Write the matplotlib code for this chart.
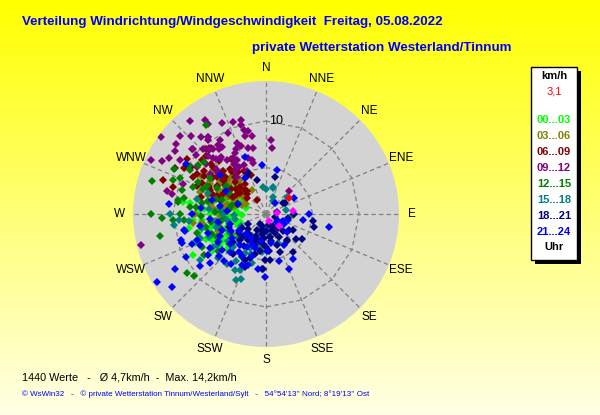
import numpy as np
import matplotlib
matplotlib.use("Agg")
import matplotlib.pyplot as plt
from matplotlib.patches import Rectangle, Circle

plt.rcParams["font.family"] = ["Liberation Sans", "DejaVu Sans"]

# wind direction (deg, from north, clockwise) and speed (km/h), grouped by hour
dir_00_03 = [241, 239, 265, 255, 244, 278, 262, 278, 251, 265, 285, 298, 300, 255, 311, 270,
             248, 258, 275, 290, 282, 268, 245, 236, 292, 305, 260, 230, 272, 287, 252, 300,
             250, 262, 275, 285, 240, 232, 268, 280, 258, 247, 293, 272, 255, 238, 265,
             228, 242, 256, 270, 283, 262, 248, 235]
spd_00_03 = [9.0, 5.4, 6.9, 7.5, 6.4, 9.0, 7.1, 8.2, 4.6, 3.9, 5.7, 7.0, 3.0, 6.5, 4.4, 5.0,
             3.2, 5.8, 4.2, 4.8, 6.3, 2.6, 7.8, 6.0, 3.6, 5.2, 8.4, 4.8, 7.4, 2.2, 2.9, 6.0,
             5.0, 5.6, 6.7, 4.0, 5.9, 5.2, 4.4, 3.4, 3.5, 7.0, 5.5, 3.0, 4.1, 4.2, 7.9,
             5.6, 4.8, 6.2, 6.0, 7.4, 4.8, 8.2, 7.2]

dir_03_06 = [295, 300, 290, 305, 285, 310, 298, 280, 292, 315, 275, 303, 288, 296, 320,
             282, 308, 270, 262, 300, 312, 287, 294, 305, 278, 263, 250, 240, 325, 330,
             300, 310, 293, 285, 318, 305, 297, 290, 302, 280, 315, 308,
             315, 322, 300, 288, 310, 276, 268, 296]
spd_03_06 = [4.0, 5.2, 6.1, 4.6, 3.5, 5.5, 6.8, 4.8, 3.0, 3.8, 5.6, 7.2, 7.5, 2.4, 4.9,
             6.4, 3.3, 7.6, 6.9, 8.1, 6.2, 5.1, 4.5, 2.8, 3.9, 7.9, 5.5, 4.2, 5.8, 3.0,
             3.6, 4.2, 5.4, 4.3, 4.4, 6.0, 5.8, 2.7, 4.9, 6.0, 6.6, 5.0,
             5.5, 4.6, 7.0, 6.6, 7.4, 4.4, 5.0, 3.8]

dir_06_09 = [305, 297, 299, 288, 286, 317, 320, 305, 312, 339, 321, 310, 297, 307, 309, 316,
             317, 293, 298, 292, 290, 326, 287, 305, 315, 300, 310, 295, 320, 325, 290, 312,
             302, 318, 308, 298, 285, 312, 305, 322, 300, 316, 308, 295, 326, 318, 302, 311, 333,
             300, 314, 328, 306, 296, 320, 330, 310, 290, 304]
spd_06_09 = [10.4, 11.0, 10.1, 11.7, 10.4, 9.5, 9.2, 8.1, 7.6, 4.5, 5.8, 9.0, 8.8, 6.6, 5.8, 4.0,
             3.0, 6.5, 4.4, 8.0, 3.3, 1.8, 5.2, 7.0, 6.5, 5.0, 4.2, 6.8, 5.2, 4.0, 5.6, 8.0,
             9.5, 7.6, 5.9, 4.0, 7.2, 6.0, 5.4, 6.2, 6.1, 4.8, 3.6, 5.1, 5.4, 3.4, 7.8, 7.0, 5.2,
             8.6, 9.0, 7.0, 4.6, 7.6, 3.2, 6.6, 2.6, 6.2, 3.8]

dir_09_12 = [321, 327, 327, 334, 340, 345, 344, 345, 348, 345, 306, 323, 322, 328, 312, 316,
             319, 321, 324, 335, 345, 349, 4, 5, 295, 297, 317, 320, 324, 332, 302, 283,
             282, 256, 46, 311, 325, 336, 304, 310, 305, 327, 306, 346, 330, 338, 335, 325,
             320, 316, 312, 310, 300, 328, 318, 342, 350, 322, 310, 290,
             333, 327, 340, 318, 312, 330, 336, 322, 315, 345, 308, 323]
spd_09_12 = [12.9, 12.1, 11.5, 10.9, 10.5, 10.5, 9.9, 9.3, 9.1, 8.7, 14.0, 10.3, 10.1, 9.4, 10.5, 9.7,
             9.4, 9.0, 8.6, 7.7, 7.3, 7.2, 8.0, 7.1, 13.7, 12.6, 8.3, 7.7, 7.2, 6.6, 10.9, 10.9,
             10.3, 13.9, 3.5, 10.6, 5.8, 5.1, 9.0, 8.4, 11.9, 6.4, 7.4, 5.6, 7.0, 8.2, 9.6, 9.0,
             10.8, 11.6, 12.5, 9.8, 12.0, 6.2, 8.0, 6.3, 8.5, 5.0, 6.8, 9.5,
             7.4, 8.6, 7.8, 9.2, 7.3, 5.8, 5.8, 7.8, 8.8, 6.0, 12.3, 10.4]

dir_12_15 = [286, 268, 266, 233, 229, 237, 92, 326, 300, 306, 293, 278, 255, 243, 232, 242,
             258, 209, 290, 279, 286, 295, 303, 292, 280, 272, 262, 288, 298, 275, 250, 284,
             265, 305, 310, 296, 270, 283, 276, 268, 290, 260, 300, 287, 274, 255, 266, 295, 281,
             258, 270, 245, 290, 278, 302]
spd_12_15 = [12.8, 11.2, 10.0, 10.6, 10.2, 8.0, 2.9, 11.5, 9.4, 9.0, 10.0, 9.6, 7.7, 7.7, 6.5, 4.4,
             11.6, 5.3, 10.6, 9.6, 9.4, 8.1, 7.2, 7.3, 7.0, 5.5, 6.0, 5.0, 6.0, 8.2, 6.2, 3.8,
             4.5, 5.3, 8.7, 11.0, 12.4, 6.4, 7.6, 7.0, 8.4, 5.0, 4.6, 5.6, 4.8, 5.2, 8.8, 7.0, 9.0,
             6.6, 9.2, 5.8, 3.2, 4.0, 9.8]

dir_15_18 = [270, 266, 263, 227, 209, 201, 238, 261, 190, 205, 204, 185, 15, 354, 157, 22,
             0, 27, 79, 16, 51, 174, 186, 250, 240, 230, 258, 275, 282, 220, 215, 245,
             265, 290, 235, 200, 212, 196, 245, 255, 238, 225, 260, 270, 212, 228, 180, 195,
             205, 250, 240, 218, 235, 248, 262, 222, 208, 192, 268, 278]
spd_15_18 = [10.3, 9.4, 10.0, 7.0, 6.9, 7.5, 6.7, 4.2, 2.6, 6.6, 7.8, 3.5, 3.0, 2.9, 3.4, 2.0,
             2.7, 1.6, 2.2, 2.9, 2.9, 2.1, 4.1, 5.0, 5.8, 4.0, 7.0, 6.2, 7.6, 5.5, 3.2, 3.0,
             8.3, 6.6, 8.6, 4.6, 6.0, 5.5, 4.4, 5.6, 6.2, 5.0, 3.4, 4.6, 2.8, 3.6, 1.4, 2.0,
             4.0, 7.6, 3.4, 6.8, 5.0, 6.6, 5.4, 4.4, 4.8, 3.8, 3.4, 5.0]

dir_18_21 = [98, 105, 125, 141, 184, 155, 100, 117, 57, 205, 202, 183, 181, 143, 199, 203,
             60, 14, 334, 150, 170, 190, 210, 225, 160, 135, 175, 195, 215, 230, 120, 110,
             80, 200, 185, 165, 240, 345, 130, 145, 90, 220, 170, 336,
             180, 205, 220, 195, 170, 150, 235, 215, 190, 175, 140, 160, 200, 230, 185, 125,
             210, 195, 180, 160, 225, 240, 250]
spd_18_21 = [5.1, 5.3, 4.7, 3.6, 5.9, 2.3, 2.4, 1.9, 2.2, 5.4, 6.1, 5.9, 4.9, 3.7, 1.4, 3.0,
             2.3, 4.1, 4.6, 1.5, 2.5, 2.2, 2.0, 3.3, 3.6, 2.6, 4.0, 4.5, 4.2, 2.5, 3.4, 1.0,
             1.2, 3.6, 3.2, 1.2, 2.2, 3.8, 4.2, 5.0, 3.0, 5.6, 2.5, 4.8,
             1.8, 2.6, 2.8, 3.0, 3.0, 2.8, 3.6, 3.4, 4.0, 5.0, 2.0, 4.4, 5.0, 4.6, 2.6, 3.0,
             1.2, 1.8, 3.6, 1.8, 4.0, 3.0, 4.2]

dir_21_24 = [238, 232, 239, 181, 157, 149, 102, 276, 302, 340, 355, 14, 61, 253, 258, 249,
             239, 231, 223, 210, 242, 251, 259, 229, 245, 198, 122, 39, 179, 235, 225, 215,
             205, 190, 170, 150, 130, 100, 90, 265, 255, 245, 270, 280, 200, 188, 165, 120,
             310, 290, 125, 112, 105, 230, 240, 250, 220, 210, 260, 245, 235, 198, 215, 275,
             285, 300, 330, 228, 252, 238, 222, 212, 260, 275, 248, 232, 205]
spd_21_24 = [13.8, 12.8, 11.4, 6.8, 6.4, 5.6, 6.9, 10.5, 10.1, 6.5, 5.3, 4.9, 3.5, 9.6, 8.9, 7.9,
             7.0, 6.1, 5.6, 4.1, 9.8, 9.5, 9.0, 8.0, 7.8, 4.8, 1.5, 1.5, 4.0, 4.5, 3.0, 6.5,
             3.5, 3.0, 3.2, 3.8, 3.0, 4.0, 4.6, 6.0, 4.0, 5.5, 8.0, 5.0, 5.8, 6.0, 5.2, 2.2,
             6.5, 3.2, 1.5, 2.0, 2.5, 5.0, 6.0, 5.0, 4.4, 5.2, 7.2, 4.2, 7.6, 3.8, 5.0, 7.0,
             6.0, 5.0, 4.5, 6.8, 6.6, 3.4, 6.8, 3.0, 5.2, 4.2, 8.6, 9.0, 6.0]

dir_recent = [84, 133, 85, 160]
spd_recent = [2.9, 1.9, 1.2, 0.8]
dir_current = [54]
spd_current = [3.0]

hour_labels = ["00...03", "03...06", "06...09", "09...12", "12...15", "15...18", "18...21", "21...24"]
hour_colors = ["#00ff00", "#808000", "#800000", "#800080", "#008000", "#008080", "#000080", "#0000ff"]
hour_dirs = [dir_00_03, dir_03_06, dir_06_09, dir_09_12, dir_12_15, dir_15_18, dir_18_21, dir_21_24]
hour_spds = [spd_00_03, spd_03_06, spd_06_09, spd_09_12, spd_12_15, spd_15_18, spd_18_21, spd_21_24]

compass = ["N", "NNE", "NE", "ENE", "E", "ESE", "SE", "SSE",
           "S", "SSW", "SW", "WSW", "W", "WNW", "NW", "NNW"]
rings = [5, 10]
rmax = 14.3

W, H = 600, 415


def fx(px):
    return px / W


def fy(py):
    return 1 - py / H


fig = plt.figure(figsize=(6, 4.15), dpi=100)

# yellow background gradient
bg = fig.add_axes([0, 0, 1, 1], zorder=-10)
img = np.ones((256, 1, 3))
img[:, 0, 2] = np.linspace(0.0, 0.9, 256)
bg.imshow(img, aspect="auto", extent=[0, 1, 0, 1])
bg.axis("off")

cx, cy, rad = 266, 214, 133
rect = [fx(cx - rad), fy(cy + rad), 2 * rad / W, 2 * rad / H]

# grey disc with polygon rings and spokes (drawn behind the polar axes)
grid_ax = fig.add_axes(rect, zorder=0)
grid_ax.set_xlim(-rmax, rmax)
grid_ax.set_ylim(-rmax, rmax)
grid_ax.axis("off")
grid_ax.add_patch(Circle((0, 0), rmax, facecolor="#d3d3d3", edgecolor="none"))
ang = np.deg2rad(np.arange(0, 360.1, 22.5))
dash = (0, (3.5, 2.5))
for r in rings:
    grid_ax.plot(r * np.sin(ang), r * np.cos(ang), color="#808080", lw=0.9, ls=dash)
for a in ang[:-1]:
    grid_ax.plot([0, rmax * np.sin(a)], [0, rmax * np.cos(a)], color="#808080", lw=0.9, ls=dash)
grid_ax.text(0.3, 10, "10", fontsize=9, ha="left", va="center")

ax = fig.add_axes(rect, projection="polar", zorder=1)
ax.set_theta_zero_location("N")
ax.set_theta_direction(-1)
ax.patch.set_alpha(0)
ax.spines["polar"].set_visible(False)
ax.grid(False)
ax.set_xticks([])
ax.set_yticks([])
ax.set_ylim(0, rmax)

for d, s, c in zip(hour_dirs, hour_spds, hour_colors):
    ax.plot(np.deg2rad(d), s, ls="none", marker="D", ms=3.6, color=c, mew=0, zorder=3)
ax.plot(np.deg2rad(dir_recent), spd_recent, ls="none", marker="D", ms=3.6, color="#ff00ff", mew=0, zorder=4)
ax.plot(np.deg2rad(dir_current), spd_current, ls="none", marker="D", ms=3.6, color="#ff0000", mew=0, zorder=5)

for a, lab in zip(ang[:-1], compass):
    ax.text(a, 15.7, lab, fontsize=8.5, ha="center", va="center", clip_on=False)

# titles
fig.text(fx(22), fy(22), "Verteilung Windrichtung/Windgeschwindigkeit  Freitag, 05.08.2022",
         color="#0000ff", fontsize=9.6, fontweight="bold", ha="left", va="center")
fig.text(fx(252), fy(48), "private Wetterstation Westerland/Tinnum",
         color="#0000ff", fontsize=9.6, fontweight="bold", ha="left", va="center")

# legend box
fig.add_artist(Rectangle((fx(535), fy(264)), (577 - 531) / W, (260 - 67) / H,
                         transform=fig.transFigure, facecolor="black", edgecolor="none"))
fig.add_artist(Rectangle((fx(531), fy(260)), (577 - 531) / W, (260 - 67) / H,
                         transform=fig.transFigure, facecolor="white", edgecolor="black", lw=1))
fig.text(fx(554), fy(76), "km/h", fontsize=8, fontweight="bold", ha="center", va="center")
fig.text(fx(554), fy(92), "3,1", fontsize=8, color="#ff0000", ha="center", va="center")
for i, (lab, c) in enumerate(zip(hour_labels, hour_colors)):
    fig.text(fx(554), fy(120 + 16 * i), lab, fontsize=8, fontweight="bold", color=c,
             ha="center", va="center")
fig.text(fx(554), fy(247), "Uhr", fontsize=8, fontweight="bold", ha="center", va="center")

# footer
fig.text(fx(22), fy(377), "1440 Werte   -   \u00d8 4,7km/h  -  Max. 14,2km/h",
         fontsize=7.8, ha="left", va="center")
fig.text(fx(22), fy(394),
         "\u00a9 WsWin32   -   \u00a9 private Wetterstation Tinnum/Westerland/Sylt   -   "
         "54\u00b054'13'' Nord; 8\u00b019'13'' Ost",
         fontsize=5.8, color="#0000ff", ha="left", va="center")

fig.savefig("out.png", dpi=100)
